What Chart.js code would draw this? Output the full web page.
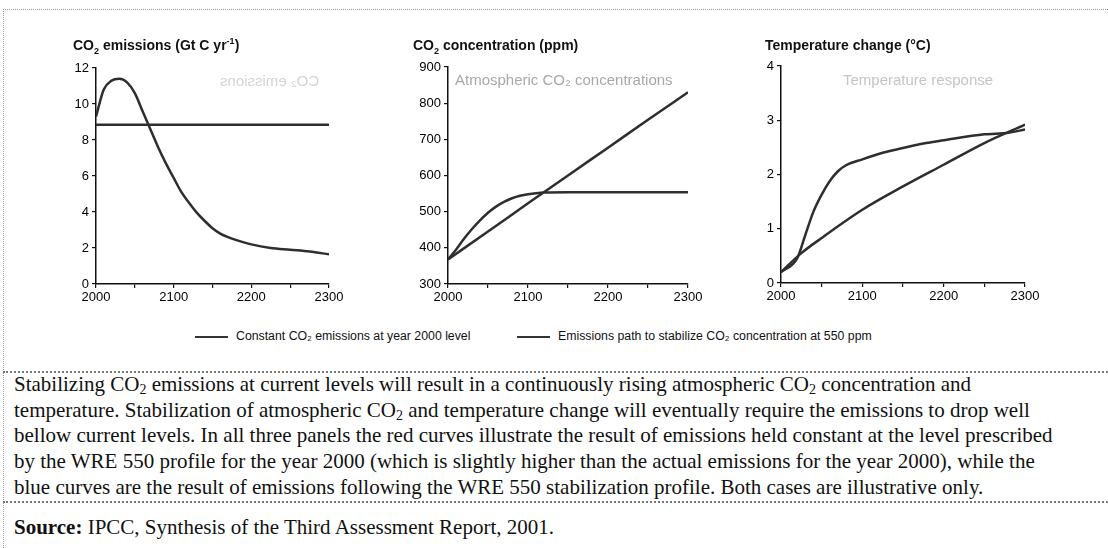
<!DOCTYPE html>
<html>
<head>
<meta charset="utf-8">
<script src="https://cdn.jsdelivr.net/npm/chart.js@4.4.1/dist/chart.umd.min.js"></script>
<style>
  body { margin: 0; width: 1108px; height: 548px; position: relative; background: #fff; overflow: hidden; font-family: "Liberation Sans", Arial, sans-serif; }
  canvas { position: absolute; }
  .ttl { position: absolute; font-weight: bold; font-size: 14px; color: #111; white-space: nowrap; line-height: 16px; }
  .ttl sub, .ttl sup { font-size: 9px; line-height: 0; }
  .ghost { position: absolute; font-size: 15px; white-space: nowrap; pointer-events: none; }
  .leg { position: absolute; top: 329px; font-size: 12.3px; color: #111; white-space: nowrap; }
  .leg i { display: inline-block; width: 33px; border-top: 2px solid #333; vertical-align: middle; margin-right: 8px; }
  .rule { position: absolute; border-top: 2px dotted #777; }
  .vrule { position: absolute; border-left: 1px dotted #999; }
  .caption { position: absolute; left: 14px; top: 372px; font-family: "Liberation Serif", "Times New Roman", serif; font-size: 21px; line-height: 25.7px; color: #111; white-space: nowrap; }
  .caption sub { font-size: 14px; line-height: 0; vertical-align: -3px; }
  .source { position: absolute; left: 14px; top: 514px; font-family: "Liberation Serif", "Times New Roman", serif; font-size: 21px; line-height: 26px; color: #111; white-space: nowrap; }
</style>
</head>
<body>

<div class="rule" style="left:3px; top:9px; width:1105px; border-top:1px dotted #999;"></div>
<div class="vrule" style="left:3px; top:9px; height:539px;"></div>
<div class="rule" style="left:3px; top:371px; width:1105px;"></div>
<div class="rule" style="left:3px; top:501px; width:1105px;"></div>

<canvas id="c1" width="310" height="260" style="left:40px; top:55px;"></canvas>
<canvas id="c2" width="320" height="260" style="left:392px; top:55px;"></canvas>
<canvas id="c3" width="320" height="259" style="left:725px; top:55px;"></canvas>

<div class="ttl" style="left:73px; top:37px;">CO<sub>2</sub> emissions (Gt C yr<sup>-1</sup>)</div>
<div class="ttl" style="left:413px; top:37px;">CO<sub>2</sub> concentration (ppm)</div>
<div class="ttl" style="left:765px; top:37px;">Temperature change (°C)</div>

<div class="ghost" style="left:220px; top:72px; color:#d4d4d4; transform:scaleX(-1);">CO₂ emissions</div>
<div class="ghost" style="left:455px; top:71px; color:#a8a8a8;">Atmospheric CO₂ concentrations</div>
<div class="ghost" style="left:843px; top:71px; color:#c4c4c4;">Temperature response</div>

<div class="leg" style="left:195px;"><i></i>Constant CO₂ emissions at year 2000 level</div>
<div class="leg" style="left:517px;"><i></i>Emissions path to stabilize CO₂ concentration at 550 ppm</div>

<div class="caption">
Stabilizing CO<sub>2</sub> emissions at current levels will result in a continuously rising atmospheric CO<sub>2</sub> concentration and<br>
temperature. Stabilization of atmospheric CO<sub>2</sub> and temperature change will eventually require the emissions to drop well<br>
bellow current levels. In all three panels the red curves illustrate the result of emissions held constant at the level prescribed<br>
by the WRE 550 profile for the year 2000 (which is slightly higher than the actual emissions for the year 2000), while the<br>
blue curves are the result of emissions following the WRE 550 stabilization profile. Both cases are illustrative only.
</div>
<div class="source"><b>Source:</b> IPCC, Synthesis of the Third Assessment Report, 2001.</div>

<script>
// x axis (years)
const xTickLabels = [2000, 2100, 2200, 2300];

// panel 1: CO2 emissions (Gt C / yr)
const emisConstYears = [2000, 2300];
const emisConst = [8.85, 8.85];
const emisStabYears = [2000, 2010, 2020, 2030, 2040, 2050, 2060, 2070, 2080, 2090, 2100, 2110, 2120, 2130, 2140, 2150, 2160, 2170, 2180, 2200, 2225, 2250, 2275, 2300];
const emisStab = [9.3, 10.8, 11.3, 11.4, 11.2, 10.6, 9.6, 8.6, 7.6, 6.7, 5.9, 5.1, 4.5, 3.95, 3.5, 3.1, 2.8, 2.6, 2.45, 2.2, 2.0, 1.9, 1.8, 1.65];

// panel 2: CO2 concentration (ppm)
const concConstYears = [2000, 2050, 2100, 2150, 2200, 2250, 2300];
const concConst = [368, 445, 523, 600, 677, 754, 830];
const concStabYears = [2000, 2010, 2020, 2030, 2040, 2050, 2060, 2070, 2080, 2090, 2100, 2110, 2120, 2150, 2200, 2300];
const concStab = [368, 395, 425, 452, 476, 497, 514, 527, 537, 544, 548, 551, 553, 554, 554, 554];

// panel 3: temperature change (deg C)
const tempConstYears = [2000, 2025, 2050, 2100, 2150, 2200, 2250, 2300];
const tempConst = [0.2, 0.55, 0.83, 1.35, 1.78, 2.18, 2.58, 2.92];
const tempStabYears = [2000, 2020, 2030, 2040, 2050, 2060, 2070, 2080, 2100, 2125, 2150, 2175, 2200, 2250, 2280, 2300];
const tempStab = [0.2, 0.46, 0.89, 1.32, 1.63, 1.88, 2.06, 2.17, 2.28, 2.4, 2.49, 2.57, 2.63, 2.74, 2.77, 2.83];

const lineColor = '#2e2e2e';
const tickFont = { family: 'Liberation Sans', size: 13 };

function pts(xs, ys) {
  return xs.map((x, i) => ({ x: x, y: ys[i] }));
}

function makePanel(id, pad, yMin, yMax, yStep, series) {
  return new Chart(document.getElementById(id), {
    type: 'line',
    data: {
      datasets: series.map(s => ({
        data: s,
        borderColor: lineColor,
        borderWidth: 2.5,
        pointRadius: 0,
        cubicInterpolationMode: 'monotone',
        fill: false
      }))
    },
    options: {
      responsive: false,
      animation: false,
      layout: { padding: pad },
      plugins: { legend: { display: false }, tooltip: { enabled: false } },
      scales: {
        x: {
          type: 'linear',
          min: 2000,
          max: 2300,
          afterFit: s => { s.height = 30; },
          border: { display: true, color: '#111', width: 1.5 },
          grid: { drawOnChartArea: false, tickLength: 4, color: '#111', lineWidth: 1.2 },
          ticks: {
            stepSize: 50,
            padding: 2,
            maxRotation: 0,
            autoSkip: false,
            color: '#000',
            font: tickFont,
            callback: v => xTickLabels.includes(v) ? String(v) : ''
          }
        },
        y: {
          min: yMin,
          max: yMax,
          afterFit: s => { s.width = 56; },
          border: { display: true, color: '#111', width: 1.5 },
          grid: { drawOnChartArea: false, tickLength: 4, color: '#111', lineWidth: 1.2 },
          ticks: { stepSize: yStep, padding: 3, color: '#000', font: tickFont }
        }
      }
    }
  });
}

makePanel('c1', { top: 13, right: 21, bottom: 1, left: 0 }, 0, 12, 2,
  [pts(emisConstYears, emisConst), pts(emisStabYears, emisStab)]);
makePanel('c2', { top: 12, right: 24, bottom: 1, left: 0 }, 300, 900, 100,
  [pts(concConstYears, concConst), pts(concStabYears, concStab)]);
makePanel('c3', { top: 11, right: 20, bottom: 1, left: 0 }, 0, 4, 1,
  [pts(tempConstYears, tempConst), pts(tempStabYears, tempStab)]);
</script>
</body>
</html>
